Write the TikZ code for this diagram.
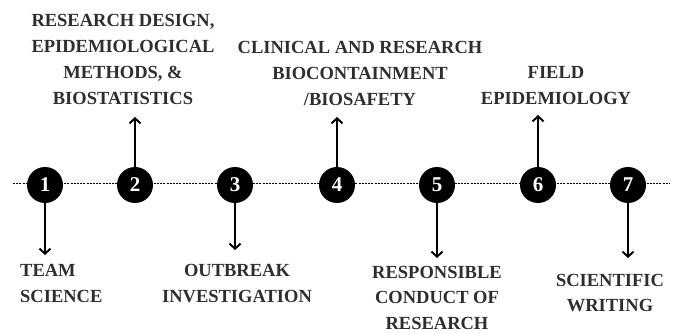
\documentclass[tikz,border=0pt]{standalone}
\usepackage{fontspec}
\setmainfont{Liberation Serif}
\usetikzlibrary{calc, arrows.meta}
\tikzset{>={Straight Barb[length=5pt,width=11pt]}}
\tikzset{
    milestone/.style = {circle, fill=black, minimum size=36pt, inner sep=0pt, text=white, font=\fontsize{21}{21}\selectfont\bfseries},
    topic/.style = {align=center, inner sep=0pt, text=black!82, font=\fontsize{18.5}{26}\selectfont\bfseries},
    link/.style = {->, line width=2pt},
}

\begin{document}
\begin{tikzpicture}[x = 1pt, y = -1pt]

    \useasboundingbox (0,0) rectangle (673,334);

    \coordinate (start) at (13,184);
    \coordinate (end) at (670,184);
    \draw[line width=1pt, dash pattern=on 2pt off 1.2pt] (start) -- (end);

    \foreach \n/\x in {1/45, 2/135, 3/235, 4/337, 5/437, 6/538, 7/628}
        \node[milestone] (c\n) at (\x,185) {\n};

    % below the line
    \coordinate (t1) at ($(c1) + (0,70)$);
    \draw[link] (c1) -- (t1);
    \node[topic, align=left, anchor=north west] (team) at (20,264) {TEAM\\SCIENCE};

    \coordinate (t3) at ($(c3) + (0,65)$);
    \draw[link] (c3) -- (t3);
    \node[topic, anchor=north] (outbreak) at (237,264) {OUTBREAK\\INVESTIGATION};

    \coordinate (t5) at ($(c5) + (0,73)$);
    \draw[link] (c5) -- (t5);
    \node[topic, anchor=north, font=\fontsize{18.5}{25.5}\selectfont\bfseries] (conduct) at (437,266) {RESPONSIBLE\\CONDUCT OF\\RESEARCH};

    \coordinate (t7) at ($(c7) + (0,73)$);
    \draw[link] (c7) -- (t7);
    \node[topic, anchor=north, font=\fontsize{18.5}{25}\selectfont\bfseries] (writing) at (610,274) {SCIENTIFIC\\WRITING};

    % above the line
    \coordinate (t2) at ($(c2) + (0,-68)$);
    \draw[link] (c2) -- (t2);
    \node[topic, anchor=north] (design) at (123,14) {RESEARCH DESIGN,\\EPIDEMIOLOGICAL\\METHODS, \&\\BIOSTATISTICS};

    \coordinate (t4) at ($(c4) + (0,-68)$);
    \draw[link] (c4) -- (t4);
    \node[topic, anchor=north] (biosafety) at (360,41) {CLINICAL AND RESEARCH\\BIOCONTAINMENT\\/BIOSAFETY};

    \coordinate (t6) at ($(c6) + (0,-70)$);
    \draw[link] (c6) -- (t6);
    \node[topic, anchor=north] (field) at (556,66) {FIELD\\EPIDEMIOLOGY};

\end{tikzpicture}
\end{document}
